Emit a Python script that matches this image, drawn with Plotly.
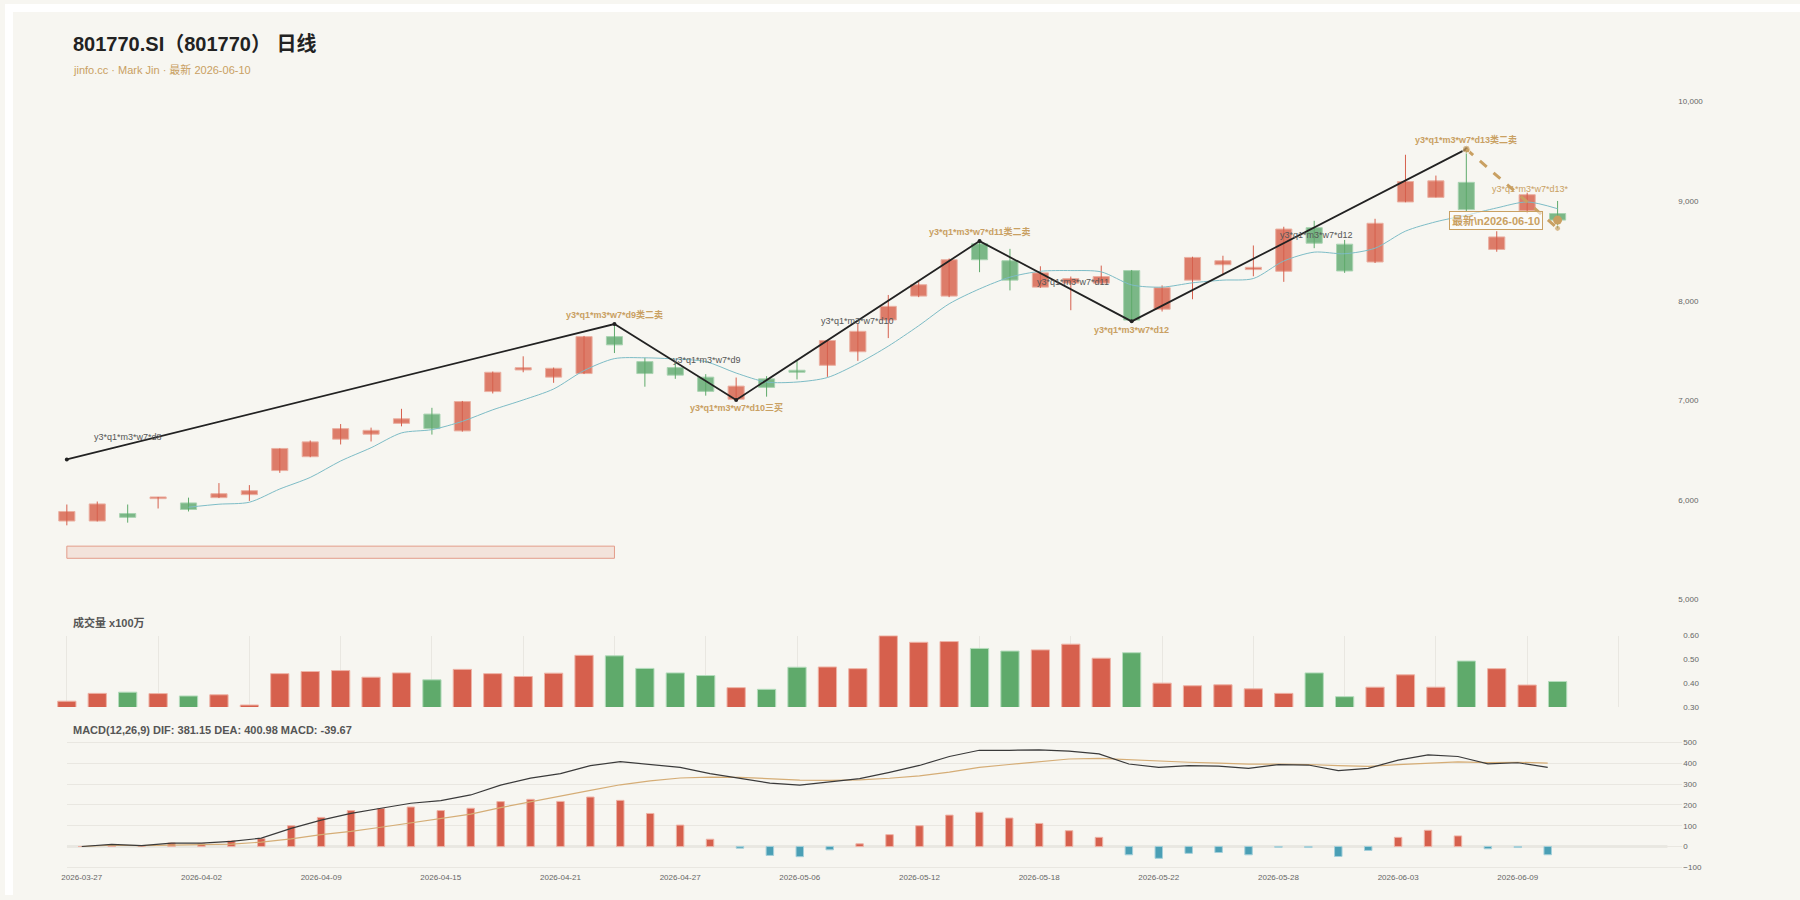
import plotly.graph_objects as go

W, H = 1800, 900

dates = ["2026-03-27","2026-03-30","2026-03-31","2026-04-01","2026-04-02","2026-04-03","2026-04-07","2026-04-08","2026-04-09","2026-04-10",
         "2026-04-13","2026-04-14","2026-04-15","2026-04-16","2026-04-17","2026-04-20","2026-04-21","2026-04-22","2026-04-23","2026-04-24",
         "2026-04-27","2026-04-28","2026-04-29","2026-04-30","2026-05-06","2026-05-07","2026-05-08","2026-05-11","2026-05-12","2026-05-13",
         "2026-05-14","2026-05-15","2026-05-18","2026-05-19","2026-05-20","2026-05-21","2026-05-22","2026-05-25","2026-05-26","2026-05-27",
         "2026-05-28","2026-05-29","2026-06-01","2026-06-02","2026-06-03","2026-06-04","2026-06-05","2026-06-08","2026-06-09","2026-06-10"]

opens  = [5789,5789,5865,6014,5971,6024,6054,6296,6435,6611, 6661,6770,6863,6694,7089,7306,7234,7270,7641,7390,
          7330,7234,7012,7217,7303,7353,7489,7808,8048,8048, 8573,8403,8138,8178,8178,8304,7916,8208,8363,8314,
          8297,8735,8569,8390,8993,9039,9190,8516,8904,8877]
highs  = [5955,5985,5955,6031,6024,6170,6150,6518,6598,6763, 6727,6916,6926,6995,7290,7443,7330,7648,7767,7429,
          7376,7264,7230,7244,7403,7602,7774,8059,8196,8425, 8600,8522,8347,8244,8354,8310,8155,8443,8453,8556,
          8744,8804,8612,8824,9467,9258,9523,8699,9086,9003]
lows   = [5746,5785,5773,5915,5885,6020,5991,6273,6430,6558, 6588,6740,6657,6687,7070,7283,7177,7265,7476,7138,
          7217,7048,7005,7038,7211,7237,7397,7626,8037,8037, 8288,8105,8130,7906,8170,7794,7893,8016,8257,8247,
          8191,8529,8281,8380,8990,9039,8900,8493,8880,8728]
closes = [5885,5961,5826,6031,5905,6064,6094,6518,6584,6717, 6700,6816,6717,6989,7283,7329,7323,7641,7558,7270,
          7254,7091,7144,7131,7283,7602,7694,7945,8162,8413, 8413,8208,8281,8224,8244,7807,8132,8436,8403,8337,
          8721,8579,8300,8779,9198,9205,8916,8642,9066,8811]

ma5 = [None,None,None,None,5928,5958,5978,6111,6227,6392, 6525,6674,6707,6790,6906,7005,7115,7300,7420,7428,
       7416,7390,7275,7185,7185,7230,7370,7545,7750,7970, 8120,8238,8297,8304,8291,8160,8138,8181,8208,8224,
       8400,8489,8473,8529,8700,8794,8860,8933,8993,8925]

volume = [0.324,0.357,0.362,0.356,0.346,0.351,0.308,0.440,0.449,0.453, 0.425,0.443,0.414,0.458,0.440,0.428,0.442,0.517,0.515,0.462,
          0.443,0.432,0.381,0.374,0.467,0.468,0.461,0.599,0.572,0.575, 0.546,0.535,0.540,0.564,0.505,0.528,0.400,0.389,0.393,0.376,
          0.357,0.443,0.343,0.383,0.435,0.383,0.493,0.461,0.392,0.407]

dif = [0,10,4,16,16,25,40,87,127,159, 184,208,221,248,295,329,351,389,408,395,
       381,351,329,305,295,310,327,357,390,433, 463,463,465,459,446,397,381,389,387,376,
       394,392,365,376,416,441,433,398,403,381.15]
dea = [0,6,4,7.5,9.5,11.5,21,37,57,72.5, 92.5,113,134.5,156,187,215.5,242.5,270,297,315.5,
       329.5,333.5,333,326.5,319.5,318,320.5,328.5,340,357.5, 380.5,394.5,409.5,421,424,417,409.5,405.5,401.5,396,
       396,394.5,389,385.5,394,402,407.5,403.5,405.5,400.98]
macd_hist = [0,8,0,17,13,27,38,100,140,173, 183,190,173,184,216,227,217,238,222,159,
             103,35,-8,-43,-49,-16,13,57,100,151, 165,137,111,76,44,-40,-57,-33,-29,-40,
             -4,-5,-48,-19,44,78,51,-11,-5,-39.67]

zigzag_idx = [0, 18, 22, 30, 35, 46]
zigzag_val = [6408, 7767, 7005, 8600, 7794, 9523]
pending_idx = [46, 49]
pending_val = [9523, 8728]

gold_labels = [("y3*q1*m3*w7*d9类二卖", 18, 7767, 10),
               ("y3*q1*m3*w7*d10三买", 22, 7005, -8),
               ("y3*q1*m3*w7*d11类二卖", 30, 8600, 10),
               ("y3*q1*m3*w7*d12", 35, 7794, -9),
               ("y3*q1*m3*w7*d13类二卖", 46, 9523, 10)]
gray_labels = [("y3*q1*m3*w7*d8", 2.0, 6637),
               ("y3*q1*m3*w7*d9", 21.05, 7403),
               ("y3*q1*m3*w7*d10", 26.0, 7800),
               ("y3*q1*m3*w7*d11", 33.08, 8188),
               ("y3*q1*m3*w7*d12", 41.08, 8665)]
pending_label = ("y3*q1*m3*w7*d13*", 48.1, 9127)
range_box = (0, 18, 5415, 5537)

price_ticks = [5000, 6000, 7000, 8000, 9000, 10000]
vol_ticks = [0.30, 0.40, 0.50, 0.60]
macd_ticks = [-100, 0, 100, 200, 300, 400, 500]
date_tick_step = 4

title = "801770.SI（801770） 日线"
subtitle = "jinfo.cc · Mark Jin · 最新 2026-06-10"
vol_title = "成交量 x100万"
macd_title = "MACD(12,26,9) DIF: 381.15 DEA: 400.98 MACD: -39.67"
latest_text = "最新\\n2026-06-10"

# ---------------- styling ----------------
FONT = "Liberation Sans, Arial, Helvetica, Noto Sans CJK SC, sans-serif"
BG = "#f7f6f1"
RED_BODY = "#dd7c69"
GREEN_BODY = "#7bb787"
RED = "#d6604d"
GREEN = "#5faa6b"
TEAL = "#4a9fb5"
GOLD = "#c9a062"
GRID = "#e9e7e1"

def xd(a, b):
    return [a / W, b / W]

def yd(top, bottom):
    return [1 - bottom / H, 1 - top / H]

n = len(dates)
idx = list(range(n))
up = [c >= o for o, c in zip(opens, closes)]

fig = go.Figure()

# wicks
for flag, col in ((True, RED), (False, GREEN)):
    wx, wy = [], []
    for i in idx:
        if up[i] == flag:
            wx += [i, i, None]
            wy += [lows[i], highs[i], None]
    fig.add_trace(go.Scatter(x=wx, y=wy, mode="lines", line=dict(color=col, width=1),
                             xaxis="x", yaxis="y", hoverinfo="skip"))

# bodies
fig.add_trace(go.Bar(
    x=idx, base=[min(o, c) for o, c in zip(opens, closes)],
    y=[max(abs(c - o), 12) for o, c in zip(opens, closes)],
    width=0.53,
    marker=dict(color=[RED_BODY if u else GREEN_BODY for u in up],
                line=dict(color=["#eab0a2" if u else "#a9d3b1" for u in up], width=1)),
    xaxis="x", yaxis="y", hoverinfo="skip"))

# MA5
fig.add_trace(go.Scatter(x=idx, y=ma5, mode="lines", line=dict(color="#7dbcc6", width=1, shape="spline", smoothing=0.8),
                         xaxis="x", yaxis="y", hoverinfo="skip"))

# zigzag
fig.add_trace(go.Scatter(x=zigzag_idx, y=zigzag_val, mode="lines+markers",
                         line=dict(color="#222222", width=1.8), marker=dict(color="#222222", size=4),
                         xaxis="x", yaxis="y", hoverinfo="skip"))
fig.add_trace(go.Scatter(x=pending_idx, y=pending_val, mode="lines+markers",
                         line=dict(color=GOLD, width=3, dash="dash"), marker=dict(color=GOLD, size=[8, 6]),
                         xaxis="x", yaxis="y", hoverinfo="skip"))
fig.add_trace(go.Scatter(x=[idx[-1]], y=[closes[-1]], mode="markers", marker=dict(color=GOLD, size=9),
                         xaxis="x", yaxis="y", hoverinfo="skip"))

# volume
fig.add_trace(go.Bar(x=idx, y=volume, width=0.6,
                     marker=dict(color=[RED if u else GREEN for u in up],
                                 line=dict(color=["#eeb3a6" if u else "#b4dcbc" for u in up], width=1)),
                     xaxis="x2", yaxis="y2", hoverinfo="skip"))

# MACD
fig.add_trace(go.Bar(x=idx, y=macd_hist, width=0.25,
                     marker=dict(color=[RED if v >= 0 else TEAL for v in macd_hist],
                                 line=dict(color=["#eeb3a6" if v >= 0 else "#a5d0da" for v in macd_hist], width=1)),
                     xaxis="x3", yaxis="y3", hoverinfo="skip"))
fig.add_trace(go.Scatter(x=idx, y=dea, mode="lines", line=dict(color="#d5ad76", width=1.2),
                         xaxis="x3", yaxis="y3", hoverinfo="skip"))
fig.add_trace(go.Scatter(x=idx, y=dif, mode="lines", line=dict(color="#3a3a3a", width=1.2),
                         xaxis="x3", yaxis="y3", hoverinfo="skip"))

tickfont = dict(family=FONT, size=8, color="#666666")

annotations = []
annotations.append(dict(xref="paper", yref="paper", x=66 / W, y=1 - 40 / H, xanchor="left", yanchor="middle",
                        text="<b>" + title + "</b>", showarrow=False, font=dict(family=FONT, size=20, color="#222222")))
annotations.append(dict(xref="paper", yref="paper", x=66 / W, y=1 - 66 / H, xanchor="left", yanchor="middle",
                        text=subtitle, showarrow=False, font=dict(family=FONT, size=11, color=GOLD)))
annotations.append(dict(xref="paper", yref="paper", x=66 / W, y=1 - 625 / H, xanchor="left", yanchor="middle",
                        text="<b>" + vol_title + "</b>", showarrow=False, font=dict(family=FONT, size=11, color="#555555")))
annotations.append(dict(xref="paper", yref="paper", x=66 / W, y=1 - 733 / H, xanchor="left", yanchor="middle",
                        text="<b>" + macd_title + "</b>", showarrow=False, font=dict(family=FONT, size=11, color="#555555")))
for t, xi, yv, sh in gold_labels:
    annotations.append(dict(xref="x", yref="y", x=xi, y=yv, text="<b>" + t + "</b>", showarrow=False,
                            yshift=sh, xanchor="center", yanchor="middle",
                            font=dict(family=FONT, size=9, color=GOLD)))
for t, xi, yv in gray_labels:
    annotations.append(dict(xref="x", yref="y", x=xi, y=yv, text=t, showarrow=False,
                            xanchor="center", yanchor="middle", font=dict(family=FONT, size=9, color="#555555")))
annotations.append(dict(xref="x", yref="y", x=pending_label[1], y=pending_label[2], text=pending_label[0],
                        showarrow=False, xanchor="center", yanchor="middle", font=dict(family=FONT, size=9, color=GOLD)))
annotations.append(dict(xref="x", yref="y", x=idx[-1], y=closes[-1], text="<b>" + latest_text + "</b>",
                        showarrow=False, xanchor="right", yanchor="middle", xshift=-15,
                        bgcolor="rgba(255,255,255,0.55)", bordercolor=GOLD, borderwidth=1, borderpad=2,
                        font=dict(family=FONT, size=11, color=GOLD)))

shapes = [
    # thin white page strips along the top and left edges (as in the reference)
    dict(type="rect", xref="paper", yref="paper", x0=0, x1=1, y0=1 - 8 / H, y1=1.0, fillcolor="white",
         line=dict(width=0), layer="below"),
    dict(type="rect", xref="paper", yref="paper", x0=0, x1=8 / W, y0=0, y1=1.0, fillcolor="white",
         line=dict(width=0), layer="below"),
    dict(type="rect", xref="x", yref="y", x0=range_box[0], x1=range_box[1], y0=range_box[2], y1=range_box[3],
         fillcolor="#f3e3db", line=dict(color="#e39c8a", width=1), layer="below"),
    dict(type="line", xref="x3", yref="y3", x0=-0.5, x1=53.0, y0=0, y1=0,
         line=dict(color="#dcdad4", width=2), layer="below"),
]

fig.update_layout(
    width=W, height=H, autosize=False,
    margin=dict(l=0, r=0, t=0, b=0),
    paper_bgcolor=BG, plot_bgcolor="rgba(0,0,0,0)",
    showlegend=False, barmode="overlay", hovermode=False,
    font=dict(family=FONT, size=8, color="#666666"),
    xaxis=dict(domain=xd(46.75, 1682), range=[-0.5, 53.1], showticklabels=False, showgrid=False,
               zeroline=False, showline=False, ticks="", anchor="y", fixedrange=True),
    yaxis=dict(domain=yd(88.6, 611.7), range=[4900, 10100], side="right", anchor="free", position=1677 / W,
               tickvals=price_ticks, tickformat=",", showgrid=False, zeroline=False, showline=False,
               ticks="", tickfont=tickfont),
    xaxis2=dict(domain=xd(46.75, 1682), range=[-0.5, 53.1], showticklabels=False, showgrid=True, gridcolor=GRID,
                gridwidth=1, tickmode="array", tickvals=list(range(0, 54, 3)), zeroline=False, showline=False,
                ticks="", anchor="y2"),
    yaxis2=dict(domain=yd(638, 710), range=[0.3, 0.6], side="right", anchor="x2", tickvals=vol_ticks,
                tickformat=".2f", showgrid=False, zeroline=False, showline=False, ticks="", tickfont=tickfont),
    xaxis3=dict(domain=xd(62, 1682), range=[-0.5, 53.5], tickmode="array",
                tickvals=idx[::date_tick_step], ticktext=dates[::date_tick_step], showgrid=False,
                zeroline=False, showline=False, ticks="", tickfont=tickfont, anchor="y3", ticklabelstandoff=3),
    yaxis3=dict(domain=yd(745, 873.05), range=[-105, 505], side="right", anchor="x3", tickvals=macd_ticks,
                showgrid=True, gridcolor=GRID, gridwidth=1, zeroline=False, showline=False, ticks="",
                tickfont=tickfont),
    annotations=annotations,
    shapes=shapes,
)

fig.write_html("out.html")
